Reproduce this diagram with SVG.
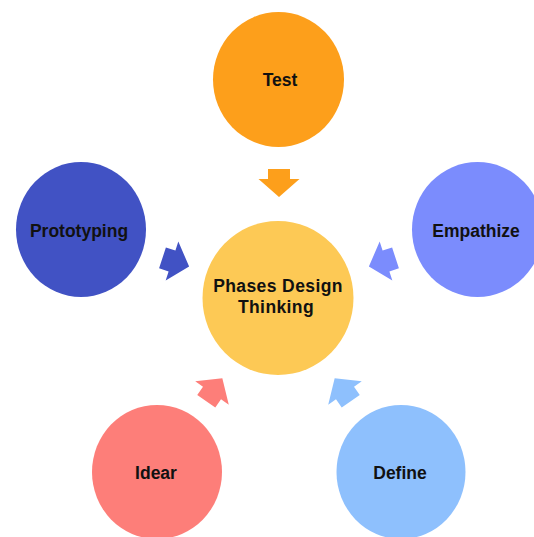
<svg xmlns="http://www.w3.org/2000/svg" xmlns:xlink="http://www.w3.org/1999/xlink" width="534" height="537" viewBox="0 0 534 537">
  <style>
    .label { font-family: "Liberation Sans", Arial, sans-serif; font-weight: bold; font-size: 17.5px; fill: #111; text-anchor: middle; }
    .center-label { letter-spacing: 0.4px; }
  </style>
  <defs>
    <!-- block arrow pointing along +x, head base at origin -->
    <path id="block-arrow" d="M -10 -11 L 0 -11 L 0 -20.5 L 18 0 L 0 20.5 L 0 11 L -10 11 Z"/>
  </defs>
  <rect width="534" height="537" fill="#ffffff"/>

  <g id="connectors">
    <use xlink:href="#block-arrow" transform="translate(279,179) rotate(90)" fill="#FD9F1B"/>
    <use xlink:href="#block-arrow" transform="translate(172,261) rotate(18)" fill="#4152C4"/>
    <use xlink:href="#block-arrow" transform="translate(386,261) rotate(162)" fill="#7B8CFD"/>
    <use xlink:href="#block-arrow" transform="translate(212,393) rotate(-55)" fill="#FD7E79"/>
    <use xlink:href="#block-arrow" transform="translate(345,393) rotate(-125)" fill="#8EC0FD"/>
  </g>

  <g id="test">
    <ellipse cx="278.5" cy="79.5" rx="65.5" ry="67.5" fill="#FD9F1B"/>
    <text class="label" x="280" y="86">Test</text>
  </g>

  <g id="prototyping">
    <ellipse cx="81" cy="229.5" rx="65" ry="67.5" fill="#4152C4"/>
    <text class="label" x="79" y="237">Prototyping</text>
  </g>

  <g id="empathize">
    <ellipse cx="477.5" cy="229.5" rx="65.5" ry="67.5" fill="#7B8CFD"/>
    <text class="label" x="476" y="237">Empathize</text>
  </g>

  <g id="phases-design-thinking">
    <ellipse cx="278" cy="298" rx="75.5" ry="77" fill="#FDC955"/>
    <text class="label center-label" x="278" y="292">Phases Design</text>
    <text class="label center-label" x="276" y="313">Thinking</text>
  </g>

  <g id="idear">
    <ellipse cx="157" cy="472" rx="65" ry="67" fill="#FD7E79"/>
    <text class="label" x="156" y="479">Idear</text>
  </g>

  <g id="define">
    <ellipse cx="401" cy="472" rx="64.5" ry="67" fill="#8EC0FD"/>
    <text class="label" x="400" y="479">Define</text>
  </g>
</svg>
